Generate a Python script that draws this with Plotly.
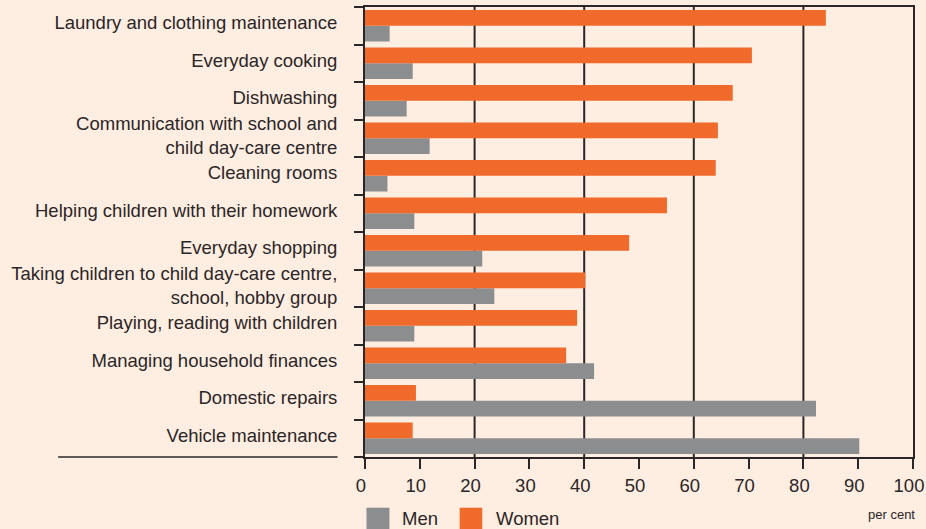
import plotly.graph_objects as go

categories = [
    "Laundry and clothing maintenance",
    "Everyday cooking",
    "Dishwashing",
    "Communication with school and<br>child day-care centre",
    "Cleaning rooms",
    "Helping children with their homework",
    "Everyday shopping",
    "Taking children to child day-care centre,<br>school, hobby group",
    "Playing, reading with children",
    "Managing household finances",
    "Domestic repairs",
    "Vehicle maintenance",
]
women = [84.1, 70.6, 67.1, 64.4, 64.0, 55.1, 48.2, 40.2, 38.7, 36.7, 9.3, 8.7]
men = [4.5, 8.7, 7.6, 11.8, 4.1, 9.0, 21.4, 23.6, 9.0, 41.8, 82.3, 90.2]
series_names = ["Men", "Women"]
x_tick_values = [0, 10, 20, 30, 40, 50, 60, 70, 80, 90, 100]
grid_values = [20, 40, 60, 80]

ORANGE = "#EF6A2B"
GREY = "#8C8D8F"
BG = "#FEEDE1"
INK = "#2B2627"
FONT = "Liberation Sans, Arial, sans-serif"

fig = go.Figure()
fig.add_trace(go.Bar(name=series_names[0], y=categories, x=men, orientation="h",
                     marker=dict(color=GREY, line=dict(width=0)), showlegend=False))
fig.add_trace(go.Bar(name=series_names[1], y=categories, x=women, orientation="h",
                     marker=dict(color=ORANGE, line=dict(width=0)), showlegend=False))

for g in grid_values:
    fig.add_shape(type="line", xref="x", yref="paper", x0=g, x1=g, y0=0, y1=1,
                  line=dict(color=INK, width=2), layer="below")

# rule under the category labels
fig.add_shape(type="line", xref="paper", yref="paper", x0=-0.56, x1=-0.05, y0=0, y1=0,
              line=dict(color=INK, width=1.5))

# legend (swatches + labels)
legend_items = [
    (series_names[0], GREY, 0.0027, 0.0446, 0.0638),
    (series_names[1], ORANGE, 0.1727, 0.2140, 0.2350),
]
for name, col, sx0, sx1, tx in legend_items:
    fig.add_shape(type="rect", xref="paper", yref="paper", x0=sx0, x1=sx1,
                  y0=-0.17, y1=-0.1127, line=dict(width=0), fillcolor=col)
    fig.add_annotation(text=name, xref="paper", yref="paper", x=tx, y=-0.1356,
                       xanchor="left", yanchor="middle", showarrow=False,
                       font=dict(size=18.5, color=INK, family=FONT))

fig.add_annotation(text="per cent", xref="paper", yref="paper", x=1.0064, y=-0.1267,
                   xanchor="right", yanchor="middle", showarrow=False,
                   font=dict(size=13, color=INK, family=FONT))

fig.update_layout(
    width=926, height=529,
    margin=dict(l=364.5, r=12.5, t=7, b=72, autoexpand=False),
    paper_bgcolor=BG, plot_bgcolor=BG,
    barmode="group", bargap=0.16, bargroupgap=0,
    font=dict(family=FONT, size=18.5, color=INK),
    showlegend=False,
    xaxis=dict(range=[0, 100], tickvals=x_tick_values, showgrid=False, zeroline=False,
               showline=True, linecolor=INK, linewidth=2, mirror=True, automargin=False,
               ticks="outside", ticklen=10, tickwidth=2, tickcolor=INK,
               ticklabelstandoff=1, ticklabelshift=-4, ticklabeloverflow="allow",
               tickfont=dict(size=18.5, color=INK)),
    yaxis=dict(categoryorder="array", categoryarray=categories[::-1],
               showgrid=False, zeroline=False, showline=True, linecolor=INK,
               linewidth=2, mirror=True, automargin=False,
               ticks="outside", tickson="boundaries",
               ticklen=9, tickwidth=2, tickcolor=INK, ticklabelstandoff=22,
               ticklabelshift=-3, tickfont=dict(size=18.5, color=INK)),
)

fig.write_html("out.html", config={"displayModeBar": False},
               post_script="document.body.style.margin='0';document.body.style.overflow='hidden';")
